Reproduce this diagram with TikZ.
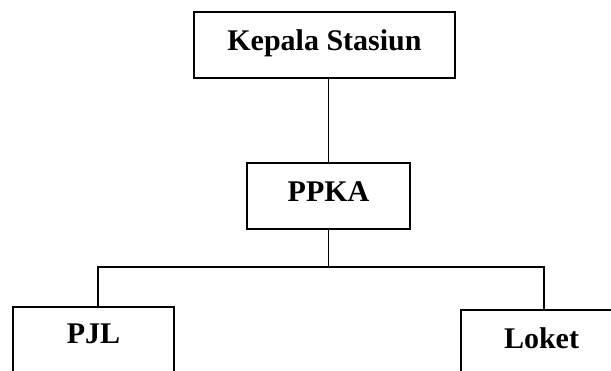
\documentclass[tikz,border=0pt]{standalone}
\usepackage{fontspec}
\setmainfont{Liberation Serif}
\begin{document}
\begin{tikzpicture}[x=1pt,y=-1pt,
  box/.style={draw, line width=1.9pt, inner xsep=0pt, inner ysep=0pt,
    font=\fontsize{30}{35}\selectfont\bfseries},
  link/.style={line width=1.9pt}]
\useasboundingbox (0,0) rectangle (611,370);
\clip (0,0) rectangle (611,370);
\node[box, minimum width=261pt, text height=39pt, text depth=27pt, anchor=north] (kepala) at (324.5,11) {Kepala Stasiun};
\node[box, minimum width=163pt, text height=39pt, text depth=27pt, anchor=north] (ppka) at (328.5,162) {PPKA};
\node[box, minimum width=161pt, text height=37pt, text depth=60pt, anchor=north] (pjl) at (93.5,306) {PJL};
\node[box, minimum width=161pt, text height=39pt, text depth=60pt, anchor=north] (loket) at (541.5,309) {Loket};
\coordinate (busL) at (98,267);
\coordinate (busR) at (544,267);
\draw[link] (ppka.north) -- (ppka.north |- kepala.south);
\draw[link] (ppka.south) -- (ppka.south |- busL);
\draw[link] (pjl.north -| busL) -- (busL) -- (busR) -- (busR |- loket.north);
\end{tikzpicture}
\end{document}
